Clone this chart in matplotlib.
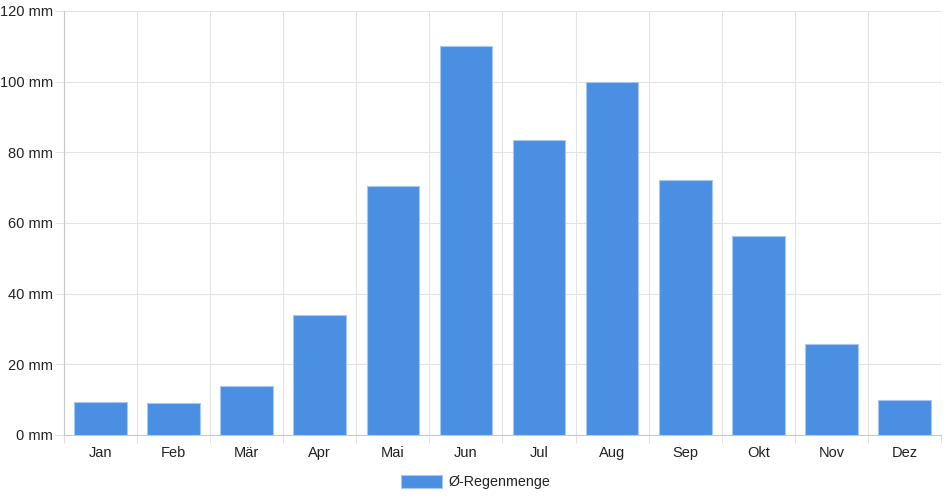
import matplotlib
matplotlib.use("Agg")
import matplotlib.pyplot as plt
import numpy as np

months = ["Jan", "Feb", "Mär", "Apr", "Mai", "Jun", "Jul", "Aug", "Sep", "Okt", "Nov", "Dez"]
rain = [9.3, 9.1, 13.9, 34.1, 70.5, 110.1, 83.5, 99.8, 72.1, 56.2, 25.7, 10.0]
yticks = [0, 20, 40, 60, 80, 100, 120]
series_name = "Ø-Regenmenge"

plt.rcParams['font.family'] = ['Liberation Sans', 'DejaVu Sans']

fig = plt.figure(figsize=(9.52, 5.0), dpi=100)
ax = fig.add_axes([64/952, 65/500, 877/952, 424/500])

x = np.arange(len(months))
ax.bar(x, rain, width=0.72, color="#4a8fe2", edgecolor="#a9c8f0", linewidth=0.8,
       label=series_name, zorder=3)

ax.set_xlim(-0.5, len(months) - 0.5)
ax.set_ylim(0, 120)
ax.set_yticks(yticks)
ax.set_yticklabels([f"{v} mm" for v in yticks])
ax.set_xticks(x)
ax.set_xticklabels(months)
ax.set_xticks(np.arange(-0.5, len(months)), minor=True)

ax.grid(True, axis="y", which="major", color="#e3e3e3", linewidth=0.8, zorder=0)
ax.grid(True, axis="x", which="minor", color="#e3e3e3", linewidth=0.8, zorder=0)
ax.grid(False, axis="x", which="major")

ax.tick_params(axis="x", which="major", length=0, pad=8, labelsize=10.5, colors="#222222")
ax.tick_params(axis="x", which="minor", length=5.8, color="#e3e3e3", width=0.8)
ax.tick_params(axis="y", which="major", length=6.5, color="#e3e3e3", width=0.8, pad=1.5,
               labelsize=10.5, labelcolor="#222222")

for s in ["top", "right"]:
    ax.spines[s].set_visible(False)
ax.spines["left"].set_color("#c8c8c8")
ax.spines["bottom"].set_color("#c8c8c8")
ax.spines["left"].set_linewidth(0.8)
ax.spines["bottom"].set_linewidth(0.8)

leg = fig.legend(loc="center", bbox_to_anchor=(476/952, 1 - 482/500), frameon=False,
                 handlelength=2.8, handleheight=1.1, fontsize=10.3, ncol=1,
                 handletextpad=0.5)
for t in leg.get_texts():
    t.set_color("#222222")

fig.savefig("out.png", dpi=100)
